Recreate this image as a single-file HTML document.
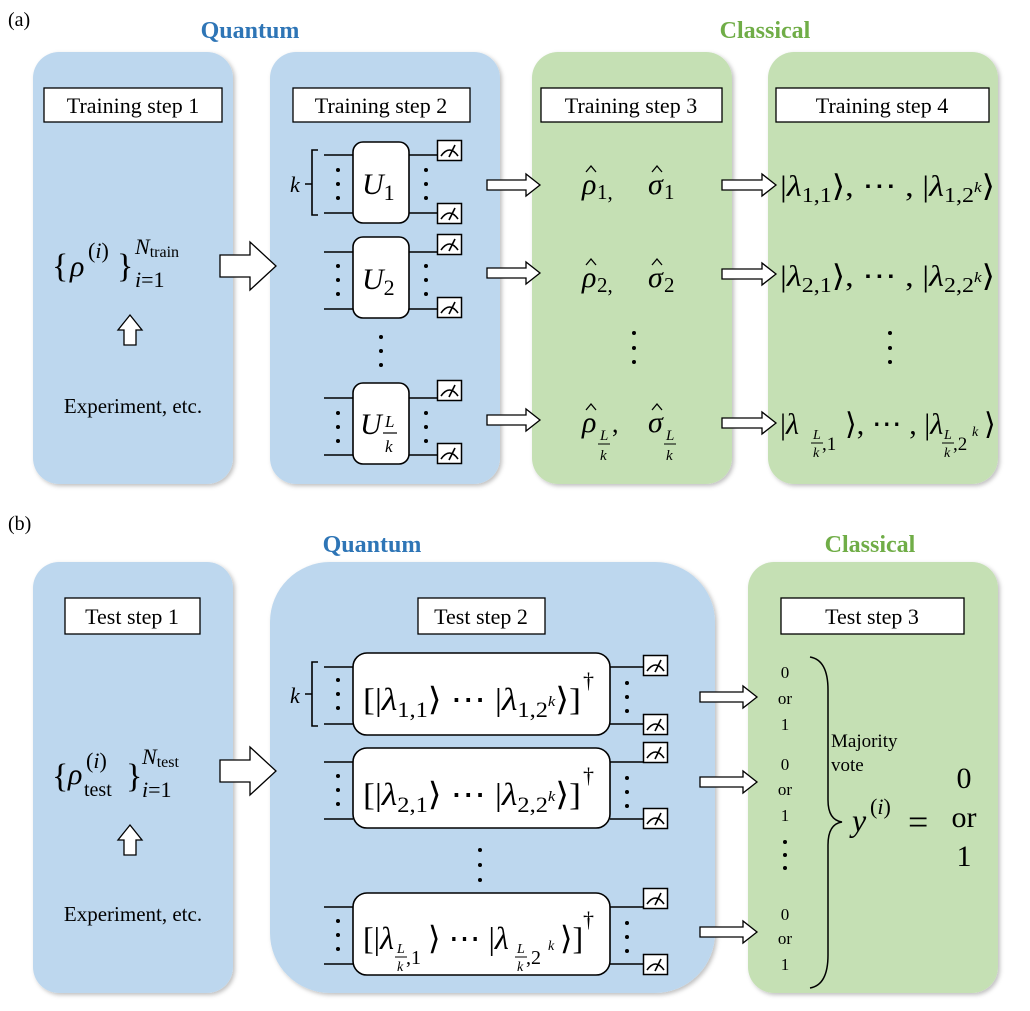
<!DOCTYPE html>
<html><head><meta charset="utf-8"><style>
html,body{margin:0;padding:0;background:#fff}
svg{display:block}
text{font-family:"Liberation Serif",serif;fill:#000}
.m{font-style:italic}
</style></head><body>
<svg width="1030" height="1011" viewBox="0 0 1030 1011" xmlns="http://www.w3.org/2000/svg">
<defs>
<filter id="sh" x="-5%" y="-5%" width="110%" height="110%"><feDropShadow dx="2" dy="2" stdDeviation="2" flood-color="#000" flood-opacity="0.25"/></filter>
<symbol id="meter" viewBox="0 0 25 21" width="25" height="21" overflow="visible">
<rect x="0.5" y="0.5" width="24" height="20" fill="#fff" stroke="#000" stroke-width="1.5"/>
<path d="M4 16 Q12.5 4 21 16" fill="none" stroke="#000" stroke-width="1.6"/>
<path d="M12 17 L18 5" stroke="#000" stroke-width="1.6"/>
</symbol>
</defs>
<text x="8" y="26" font-size="20">(a)</text>
<text x="8" y="530" font-size="20">(b)</text>
<text x="250" y="38" font-size="24" font-weight="bold" text-anchor="middle" style="fill:#2e75b6">Quantum</text>
<text x="765" y="38" font-size="24" font-weight="bold" text-anchor="middle" style="fill:#70ad47">Classical</text>
<text x="372" y="552" font-size="24" font-weight="bold" text-anchor="middle" style="fill:#2e75b6">Quantum</text>
<text x="870" y="552" font-size="24" font-weight="bold" text-anchor="middle" style="fill:#70ad47">Classical</text>

<g filter="url(#sh)">
<rect x="33" y="52" width="200" height="432" rx="26" fill="#bdd7ee"/>
<rect x="270" y="52" width="230" height="432" rx="26" fill="#bdd7ee"/>
<rect x="532" y="52" width="200" height="432" rx="26" fill="#c5e0b4"/>
<rect x="768" y="52" width="230" height="432" rx="26" fill="#c5e0b4"/>
<rect x="33" y="562" width="200" height="431" rx="26" fill="#bdd7ee"/>
<rect x="270" y="562" width="445" height="431" rx="60" fill="#bdd7ee"/>
<rect x="748" y="562" width="250" height="431" rx="26" fill="#c5e0b4"/>
</g>

<g fill="#fff" stroke="#000" stroke-width="1.3">
<rect x="44" y="88" width="178" height="34"/>
<rect x="293" y="88" width="177" height="34"/>
<rect x="541" y="88" width="181" height="34"/>
<rect x="776" y="88" width="213" height="34"/>
<rect x="65" y="598" width="135" height="36"/>
<rect x="418" y="598" width="127" height="36"/>
<rect x="781" y="598" width="183" height="36"/>
</g>
<g font-size="22" text-anchor="middle">
<text x="133" y="113">Training step 1</text>
<text x="381" y="113">Training step 2</text>
<text x="631" y="113">Training step 3</text>
<text x="882" y="113">Training step 4</text>
<text x="132" y="624">Test step 1</text>
<text x="481" y="624">Test step 2</text>
<text x="872" y="624">Test step 3</text>
</g>

<!-- panel a box1 -->
<text x="52" y="277" font-size="34">{</text>
<text x="70" y="276" font-size="30" class="m">ρ</text>
<text x="88" y="258" font-size="22">(<tspan class="m">i</tspan>)</text>
<text x="117" y="277" font-size="34">}</text>
<text x="135" y="254" font-size="22"><tspan class="m">N</tspan><tspan font-size="16" dy="3">train</tspan></text>
<text x="135" y="287" font-size="22"><tspan class="m">i</tspan>=1</text>
<path d="M124 345 V330 H118 L130 315 L142 330 H136 V345 Z" fill="#fff" stroke="#000" stroke-width="1.3"/>
<text x="133" y="413" font-size="21" text-anchor="middle">Experiment, etc.</text>

<!-- panel b box1 -->
<text x="52" y="787" font-size="34">{</text>
<text x="68" y="784" font-size="30" class="m">ρ</text>
<text x="86" y="768" font-size="22">(<tspan class="m">i</tspan>)</text>
<text x="84" y="796" font-size="20">test</text>
<text x="126" y="787" font-size="34">}</text>
<text x="142" y="764" font-size="22"><tspan class="m">N</tspan><tspan font-size="16" dy="3">test</tspan></text>
<text x="142" y="797" font-size="22"><tspan class="m">i</tspan>=1</text>
<path d="M124 855 V840 H118 L130 825 L142 840 H136 V855 Z" fill="#fff" stroke="#000" stroke-width="1.3"/>
<text x="133" y="921" font-size="21" text-anchor="middle">Experiment, etc.</text>

<!-- arrows -->
<g fill="#fff" stroke="#000" stroke-width="1.3">
<path d="M220 255 H250 V242 L276 266 L250 290 V277 H220 Z"/>
<path d="M220 760 H250 V747 L276 771 L250 795 V782 H220 Z"/>
<path d="M487 180 H526 V174 L540 185 L526 196 V190 H487 Z"/>
<path d="M487 268 H526 V262 L540 273 L526 284 V278 H487 Z"/>
<path d="M487 415 H526 V409 L540 420 L526 431 V425 H487 Z"/>
<path d="M722 180 H762 V174 L776 185 L762 196 V190 H722 Z"/>
<path d="M722 269 H762 V263 L776 274 L762 285 V279 H722 Z"/>
<path d="M722 418 H762 V412 L776 423 L762 434 V428 H722 Z"/>
<path d="M700 692 H743 V686 L757 697 L743 708 V702 H700 Z"/>
<path d="M700 777 H743 V771 L757 782 L743 793 V787 H700 Z"/>
<path d="M700 927 H743 V921 L757 932 L743 943 V937 H700 Z"/>
</g>

<!-- circuits (a) -->
<g stroke="#000" stroke-width="1.6" fill="none">
<path d="M324 155 H353 M324 213 H353 M409 155 H437 M409 213 H437"/>
<path d="M324 252 H353 M324 309 H353 M409 252 H437 M409 309 H437"/>
<path d="M324 398 H353 M324 455 H353 M409 398 H437 M409 455 H437"/>
<path d="M318 150 H312 V215 H318 M312 184 H305"/>
<rect x="353" y="142" width="56" height="81" rx="10" fill="#fff"/>
<rect x="353" y="237" width="56" height="81" rx="10" fill="#fff"/>
<rect x="353" y="383" width="56" height="81" rx="10" fill="#fff"/>
</g>
<g fill="#000">
<circle cx="338" cy="170" r="2"/><circle cx="338" cy="184" r="2"/><circle cx="338" cy="198" r="2"/>
<circle cx="426" cy="170" r="2"/><circle cx="426" cy="184" r="2"/><circle cx="426" cy="198" r="2"/>
<circle cx="338" cy="266" r="2"/><circle cx="338" cy="280" r="2"/><circle cx="338" cy="294" r="2"/>
<circle cx="426" cy="266" r="2"/><circle cx="426" cy="280" r="2"/><circle cx="426" cy="294" r="2"/>
<circle cx="338" cy="413" r="2"/><circle cx="338" cy="427" r="2"/><circle cx="338" cy="441" r="2"/>
<circle cx="426" cy="413" r="2"/><circle cx="426" cy="427" r="2"/><circle cx="426" cy="441" r="2"/>
<circle cx="381" cy="337" r="2"/><circle cx="381" cy="351" r="2"/><circle cx="381" cy="365" r="2"/>
<circle cx="634" cy="333" r="2"/><circle cx="634" cy="348" r="2"/><circle cx="634" cy="362" r="2"/>
<circle cx="890" cy="333" r="2"/><circle cx="890" cy="348" r="2"/><circle cx="890" cy="362" r="2"/>
</g>
<use href="#meter" x="437" y="140"/><use href="#meter" x="437" y="203"/>
<use href="#meter" x="437" y="234"/><use href="#meter" x="437" y="297"/>
<use href="#meter" x="437" y="380"/><use href="#meter" x="437" y="443"/>
<text x="290" y="192" font-size="22" class="m">k</text>
<text x="362" y="194" font-size="30" class="m">U<tspan font-size="22" font-style="normal" dy="6">1</tspan></text>
<text x="362" y="289" font-size="30" class="m">U<tspan font-size="22" font-style="normal" dy="6">2</tspan></text>
<text x="360" y="434" font-size="30" class="m">U</text>
<text x="385" y="427" font-size="17" class="m">L</text>
<path d="M383 433 H397" stroke="#000" stroke-width="1.2"/>
<text x="385" y="452" font-size="17" class="m">k</text>

<!-- step 3 -->
<g font-size="30" class="m">
<text x="582" y="194">ρ</text><text x="648" y="194">σ</text>
<text x="582" y="287">ρ</text><text x="648" y="287">σ</text>
<text x="582" y="432">ρ</text><text x="648" y="432">σ</text>
</g>
<g stroke="#000" stroke-width="1.3" fill="none">
<path d="M586 172 L591 166 L596 172 M652 172 L657 166 L662 172"/>
<path d="M586 265 L591 259 L596 265 M652 265 L657 259 L662 265"/>
<path d="M586 410 L591 404 L596 410 M652 410 L657 404 L662 410"/>
</g>
<g font-size="21"><text x="597" y="199">1,</text><text x="664" y="199">1</text><text x="597" y="292">2,</text><text x="664" y="292">2</text></g>
<text x="612" y="432" font-size="26">,</text>
<g font-size="15" class="m">
<text x="600" y="440">L</text><text x="600" y="460">k</text>
<text x="666" y="440">L</text><text x="666" y="460">k</text>
</g>
<path d="M598 444 H610 M664 444 H676" stroke="#000" stroke-width="1"/>

<!-- step 4 -->
<g font-size="30">
<text x="780" y="196" textLength="215" lengthAdjust="spacingAndGlyphs">|<tspan class="m">λ</tspan><tspan font-size="21" dy="6">1,1</tspan><tspan dy="-6">⟩, ⋯ , |</tspan><tspan class="m">λ</tspan><tspan font-size="21" dy="6">1,2</tspan><tspan font-size="15" class="m" dy="-10">k</tspan><tspan dy="4">⟩</tspan></text>
<text x="780" y="286" textLength="215" lengthAdjust="spacingAndGlyphs">|<tspan class="m">λ</tspan><tspan font-size="21" dy="6">2,1</tspan><tspan dy="-6">⟩, ⋯ , |</tspan><tspan class="m">λ</tspan><tspan font-size="21" dy="6">2,2</tspan><tspan font-size="15" class="m" dy="-10">k</tspan><tspan dy="4">⟩</tspan></text>
<text x="780" y="434">|<tspan class="m">λ</tspan></text>
<text x="845" y="434">⟩, ⋯ , |<tspan class="m">λ</tspan></text>
<text x="984" y="434">⟩</text>
</g>
<g font-size="14" class="m"><text x="813" y="439">L</text><text x="813" y="457">k</text><text x="944" y="439">L</text><text x="944" y="457">k</text><text x="972" y="436">k</text></g>
<g font-size="19"><text x="822" y="450">,1</text><text x="953" y="450">,2</text></g>
<path d="M811 443 H823 M942 443 H954" stroke="#000" stroke-width="1"/>

<!-- circuits (b) -->
<g stroke="#000" stroke-width="1.6" fill="none">
<path d="M324 667 H353 M324 724 H353 M610 667 H643 M610 724 H643"/>
<path d="M324 762 H353 M324 819 H353 M610 762 H643 M610 819 H643"/>
<path d="M324 907 H353 M324 964 H353 M610 907 H643 M610 964 H643"/>
<path d="M318 662 H312 V726 H318 M312 694 H305"/>
<rect x="353" y="653" width="257" height="82" rx="14" fill="#fff"/>
<rect x="353" y="748" width="257" height="80" rx="14" fill="#fff"/>
<rect x="353" y="893" width="257" height="82" rx="14" fill="#fff"/>
</g>
<g fill="#000">
<circle cx="338" cy="680" r="2"/><circle cx="338" cy="694" r="2"/><circle cx="338" cy="708" r="2"/>
<circle cx="627" cy="683" r="2"/><circle cx="627" cy="697" r="2"/><circle cx="627" cy="711" r="2"/>
<circle cx="338" cy="776" r="2"/><circle cx="338" cy="790" r="2"/><circle cx="338" cy="804" r="2"/>
<circle cx="627" cy="778" r="2"/><circle cx="627" cy="792" r="2"/><circle cx="627" cy="806" r="2"/>
<circle cx="338" cy="921" r="2"/><circle cx="338" cy="935" r="2"/><circle cx="338" cy="949" r="2"/>
<circle cx="627" cy="923" r="2"/><circle cx="627" cy="937" r="2"/><circle cx="627" cy="951" r="2"/>
<circle cx="480" cy="850" r="2"/><circle cx="480" cy="865" r="2"/><circle cx="480" cy="880" r="2"/>
<circle cx="785" cy="842" r="2"/><circle cx="785" cy="855" r="2"/><circle cx="785" cy="868" r="2"/>
</g>
<use href="#meter" x="643" y="655"/><use href="#meter" x="643" y="714"/>
<use href="#meter" x="643" y="742"/><use href="#meter" x="643" y="808"/>
<use href="#meter" x="643" y="888"/><use href="#meter" x="643" y="954"/>
<text x="290" y="703" font-size="22" class="m">k</text>
<g font-size="32">
<text x="363" y="710" textLength="218" lengthAdjust="spacingAndGlyphs">[|<tspan class="m">λ</tspan><tspan font-size="22" dy="7">1,1</tspan><tspan dy="-7">⟩ ⋯ |</tspan><tspan class="m">λ</tspan><tspan font-size="22" dy="7">1,2</tspan><tspan font-size="15" class="m" dy="-11">k</tspan><tspan dy="4">⟩]</tspan></text>
<text x="363" y="805" textLength="218" lengthAdjust="spacingAndGlyphs">[|<tspan class="m">λ</tspan><tspan font-size="22" dy="7">2,1</tspan><tspan dy="-7">⟩ ⋯ |</tspan><tspan class="m">λ</tspan><tspan font-size="22" dy="7">2,2</tspan><tspan font-size="15" class="m" dy="-11">k</tspan><tspan dy="4">⟩]</tspan></text>
<text x="363" y="949">[|<tspan class="m">λ</tspan></text>
<text x="428" y="949">⟩ ⋯ |<tspan class="m">λ</tspan></text>
<text x="560" y="949">⟩]</text>
</g>
<g font-size="22"><text x="583" y="688">†</text><text x="583" y="783">†</text><text x="583" y="927">†</text></g>
<g font-size="14" class="m"><text x="397" y="953">L</text><text x="397" y="971">k</text><text x="517" y="953">L</text><text x="517" y="971">k</text><text x="548" y="950">k</text></g>
<g font-size="20"><text x="406" y="964">,1</text><text x="526" y="964">,2</text></g>
<path d="M395 957 H407 M515 957 H527" stroke="#000" stroke-width="1"/>

<!-- step 3 (b) -->
<g font-size="17" text-anchor="middle">
<text x="785" y="678">0</text><text x="785" y="704">or</text><text x="785" y="730">1</text>
<text x="785" y="770">0</text><text x="785" y="795">or</text><text x="785" y="821">1</text>
<text x="785" y="920">0</text><text x="785" y="944">or</text><text x="785" y="970">1</text>
</g>
<path d="M810 657 Q828 660 828 690 V800 Q828 820 842 822 Q828 824 828 845 V955 Q828 985 810 988" fill="none" stroke="#000" stroke-width="1.5"/>
<text x="831" y="747" font-size="19">Majority</text>
<text x="831" y="771" font-size="19">vote</text>
<text x="852" y="831" font-size="32" class="m">y</text>
<text x="870" y="814" font-size="22">(<tspan class="m">i</tspan>)</text>
<text x="908" y="834" font-size="36">=</text>
<g font-size="30" text-anchor="middle"><text x="964" y="788">0</text><text x="964" y="827">or</text><text x="964" y="866">1</text></g>
</svg>
</body></html>
